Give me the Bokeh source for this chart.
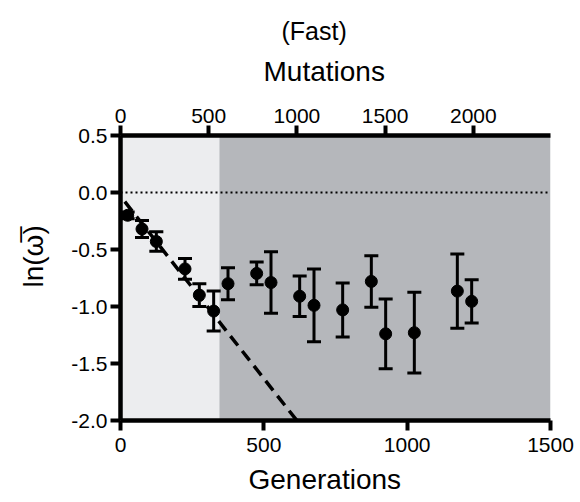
from bokeh.plotting import figure
from bokeh.models import (Range1d, LinearAxis, FixedTicker, PrintfTickFormatter,
                          Whisker, TeeHead, ColumnDataSource, Title)
from bokeh.embed import file_html
from bokeh.resources import INLINE

# ---- data ----
generations = [25, 75, 125, 225, 275, 325, 375, 475, 525, 625, 675, 775, 875, 925, 1025, 1175, 1225]
ln_w = [-0.20, -0.32, -0.43, -0.67, -0.90, -1.04, -0.80, -0.71, -0.79, -0.91, -0.99, -1.03, -0.78,
        -1.24, -1.23, -0.865, -0.955]
err = [0.03, 0.075, 0.085, 0.09, 0.10, 0.175, 0.14, 0.10, 0.27, 0.177, 0.32, 0.237, 0.226,
       0.305, 0.354, 0.325, 0.19]
fit_gen = [15, 615]
fit_ln = [-0.08, -2.0]
phase_left = [0, 345]
phase_right = [345, 1500]
phase_colors = ["#ECEDEF", "#B5B7BB"]
gen_ticks = [0, 500, 1000, 1500]
mut_ticks = [0, 500, 1000, 1500, 2000]
y_ticks = [-2.0, -1.5, -1.0, -0.5, 0.0, 0.5]
x_lo, x_hi = 0, 1500
y_lo, y_hi = -2.0, 0.5
mut_per_gen = 1.625
title_text = "(Fast)"
x_title = "Generations"
top_title = "Mutations"
y_title = "ln(\u03c9\u0305)"

FONT = "Liberation Sans"

p = figure(width=578, height=502, output_backend="svg", toolbar_location=None,
           x_range=Range1d(x_lo, x_hi), y_range=Range1d(y_lo, y_hi),
           min_border_left=120, min_border_right=28, min_border_top=135, min_border_bottom=82,
           title=None)
p.outline_line_color = None
p.grid.visible = False
p.background_fill_color = "white"
p.border_fill_color = "white"

# shaded phases
p.quad(left=phase_left, right=phase_right, bottom=y_lo, top=y_hi,
       fill_color=phase_colors, line_color=None)

# zero reference
p.line(x=[x_lo, x_hi], y=[0, 0], line_color="black", line_width=2, line_dash="2 3")

# fit line
p.line(x=fit_gen, y=fit_ln, line_color="black", line_width=3.5, line_dash="12 7")

# error bars
lower = [m - e for m, e in zip(ln_w, err)]
upper = [m + e for m, e in zip(ln_w, err)]
src = ColumnDataSource(dict(gen=generations, mean=ln_w, lower=lower, upper=upper))
wh = Whisker(base="gen", upper="upper", lower="lower", source=src, line_width=3, line_color="black",
             upper_head=TeeHead(size=14, line_width=3, line_color="black"),
             lower_head=TeeHead(size=14, line_width=3, line_color="black"),
             level="overlay")
p.add_layout(wh)
p.scatter(x="gen", y="mean", source=src, size=12, color="black")

def style_axis(ax):
    ax.axis_line_width = 4.5
    ax.axis_line_color = "black"
    ax.major_tick_line_width = 4
    ax.major_tick_line_color = "black"
    ax.major_tick_out = 10
    ax.major_tick_in = 0
    ax.minor_tick_line_color = None
    ax.major_label_text_font = FONT
    ax.major_label_text_font_size = "21px"
    ax.major_label_text_color = "black"
    ax.major_label_standoff = 3

xa = p.xaxis[0]
xa.ticker = FixedTicker(ticks=gen_ticks)
style_axis(xa)
xa.major_label_standoff = 7

ya = p.yaxis[0]
ya.ticker = FixedTicker(ticks=y_ticks)
ya.formatter = PrintfTickFormatter(format="%.1f")
style_axis(ya)

p.extra_x_ranges = {"mut": Range1d(x_lo * mut_per_gen, x_hi * mut_per_gen)}
ta = LinearAxis(x_range_name="mut", ticker=FixedTicker(ticks=mut_ticks))
style_axis(ta)
p.add_layout(ta, "above")

def make_title(text, size, valign, offset, standoff):
    return Title(text=text, align="left", vertical_align=valign, offset=offset, standoff=standoff,
                 text_font=FONT, text_font_size=size, text_font_style="normal", text_color="black")

def spacer(standoff):
    # blank title used only as spacing between panels
    return Title(text=" ", text_font=FONT, text_font_size="1px", text_color="white",
                 standoff=standoff)

p.add_layout(spacer(5), "above")
p.add_layout(make_title(top_title, "28px", "top", 143, 18), "above")
p.add_layout(make_title(title_text, "25px", "top", 161, 0), "above")
p.add_layout(spacer(4), "below")
p.add_layout(make_title(x_title, "28px", "bottom", 128, 0), "below")
p.add_layout(spacer(15), "left")
p.add_layout(make_title(y_title, "28px", "top", 133, 0), "left")

open("out.html", "w").write(file_html(p, INLINE))
